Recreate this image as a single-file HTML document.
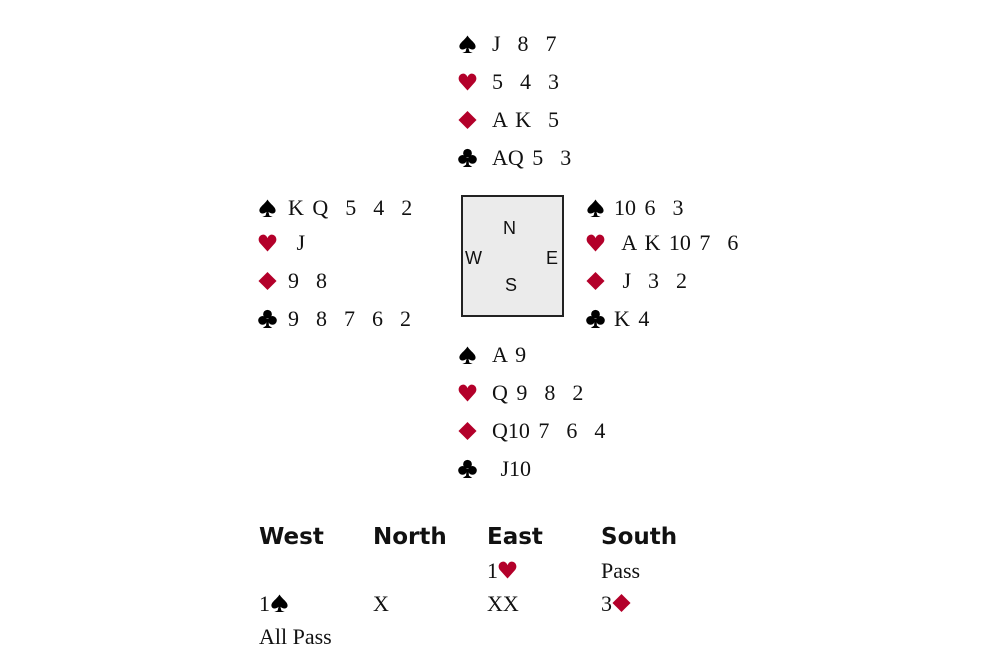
<!DOCTYPE html>
<html><head><style>
body{margin:0;width:1000px;height:666px;background:#fff;position:relative;overflow:hidden;font-family:"Liberation Serif",serif;color:#111}
.r{position:absolute;font-size:22px;line-height:24px;white-space:pre;word-spacing:3px}
.s{display:inline-block;width:34px}
.s svg{width:19px;height:20px;vertical-align:-3px}
.red{fill:#b3002a}
.box{position:absolute;left:461px;top:195px;width:99px;height:118px;background:#ebebeb;border:2px solid #222}
.c{position:absolute;font-family:"Liberation Sans",sans-serif;font-size:18px;line-height:20px}
.h{position:absolute;font-family:"DejaVu Sans","Liberation Sans",sans-serif;font-weight:bold;font-size:23px;line-height:26px;top:524px}
.a{position:absolute;font-size:22px;line-height:24px}
.a svg{width:19px;height:20px;vertical-align:-2px}
</style></head><body>
<svg width="0" height="0" style="position:absolute">
<defs>
<path id="sp" d="M10 1 C13 6 19 9 18.5 13 C18 16.5 13.5 16.5 11 14 L12 18 L15.5 19.5 L4.5 19.5 L8 18 L9 14 C6.5 16.5 2 16.5 1.5 13 C1 9 7 6 10 1 Z"/>
<path id="he" d="M10 19 L2 10 C-1.5 5.5 2.5 0 7 1.5 C8.5 2.2 9.5 3.5 10 5 C10.5 3.5 11.5 2.2 13 1.5 C17.5 0 21.5 5.5 18 10 Z"/>
<path id="di" d="M10 0.5 L19.5 10 L10 19.5 L0.5 10 Z"/>
<g id="cl"><circle cx="10" cy="5" r="4.6"/><circle cx="4.8" cy="11.5" r="4.6"/><circle cx="15.2" cy="11.5" r="4.6"/><path d="M9 10 L8.5 17 L5 19.5 L15 19.5 L11.5 17 L11 10Z"/></g>
</defs></svg>
<div class="r" style="left:458px;top:32px"><span class="s"><svg viewBox="0 0 20 20"><use href="#sp"/></svg></span>J  8  7</div>
<div class="r" style="left:458px;top:70px"><span class="s"><svg viewBox="0 0 20 20" class="red"><use href="#he"/></svg></span>5  4  3</div>
<div class="r" style="left:458px;top:108px"><span class="s"><svg viewBox="0 0 20 20" class="red"><use href="#di"/></svg></span>A K  5</div>
<div class="r" style="left:458px;top:146px"><span class="s"><svg viewBox="0 0 20 20"><use href="#cl"/></svg></span>AQ 5  3</div>

<div class="r" style="left:258px;top:196px"><span class="s" style="width:30px"><svg viewBox="0 0 20 20"><use href="#sp"/></svg></span>K Q  5  4  2</div>
<div class="r" style="left:258px;top:231px"><span class="s" style="width:30px"><svg viewBox="0 0 20 20" class="red"><use href="#he"/></svg></span> J</div>
<div class="r" style="left:258px;top:269px"><span class="s" style="width:30px"><svg viewBox="0 0 20 20" class="red"><use href="#di"/></svg></span>9  8</div>
<div class="r" style="left:258px;top:307px"><span class="s" style="width:30px"><svg viewBox="0 0 20 20"><use href="#cl"/></svg></span>9  8  7  6  2</div>

<div class="r" style="left:586px;top:196px"><span class="s" style="width:28px"><svg viewBox="0 0 20 20"><use href="#sp"/></svg></span>10 6  3</div>
<div class="r" style="left:586px;top:231px"><span class="s" style="width:28px"><svg viewBox="0 0 20 20" class="red"><use href="#he"/></svg></span> A K 10 7  6</div>
<div class="r" style="left:586px;top:269px"><span class="s" style="width:28px"><svg viewBox="0 0 20 20" class="red"><use href="#di"/></svg></span> J  3  2</div>
<div class="r" style="left:586px;top:307px"><span class="s" style="width:28px"><svg viewBox="0 0 20 20"><use href="#cl"/></svg></span>K 4</div>

<div class="box"></div>
<div class="c" style="left:503px;top:218px">N</div>
<div class="c" style="left:465px;top:248px">W</div>
<div class="c" style="left:546px;top:248px">E</div>
<div class="c" style="left:505px;top:275px">S</div>

<div class="r" style="left:458px;top:343px"><span class="s"><svg viewBox="0 0 20 20"><use href="#sp"/></svg></span>A 9</div>
<div class="r" style="left:458px;top:381px"><span class="s"><svg viewBox="0 0 20 20" class="red"><use href="#he"/></svg></span>Q 9  8  2</div>
<div class="r" style="left:458px;top:419px"><span class="s"><svg viewBox="0 0 20 20" class="red"><use href="#di"/></svg></span>Q10 7  6  4</div>
<div class="r" style="left:458px;top:457px"><span class="s"><svg viewBox="0 0 20 20"><use href="#cl"/></svg></span> J10</div>

<div class="h" style="left:259px">West</div>
<div class="h" style="left:373px">North</div>
<div class="h" style="left:487px">East</div>
<div class="h" style="left:601px">South</div>
<div class="a" style="left:487px;top:559px">1<svg viewBox="0 0 20 20" class="red"><use href="#he"/></svg></div>
<div class="a" style="left:601px;top:559px">Pass</div>
<div class="a" style="left:259px;top:592px">1<svg viewBox="0 0 20 20"><use href="#sp"/></svg></div>
<div class="a" style="left:373px;top:592px">X</div>
<div class="a" style="left:487px;top:592px">XX</div>
<div class="a" style="left:601px;top:592px">3<svg viewBox="0 0 20 20" class="red"><use href="#di"/></svg></div>
<div class="a" style="left:259px;top:625px">All Pass</div>
</body></html>
